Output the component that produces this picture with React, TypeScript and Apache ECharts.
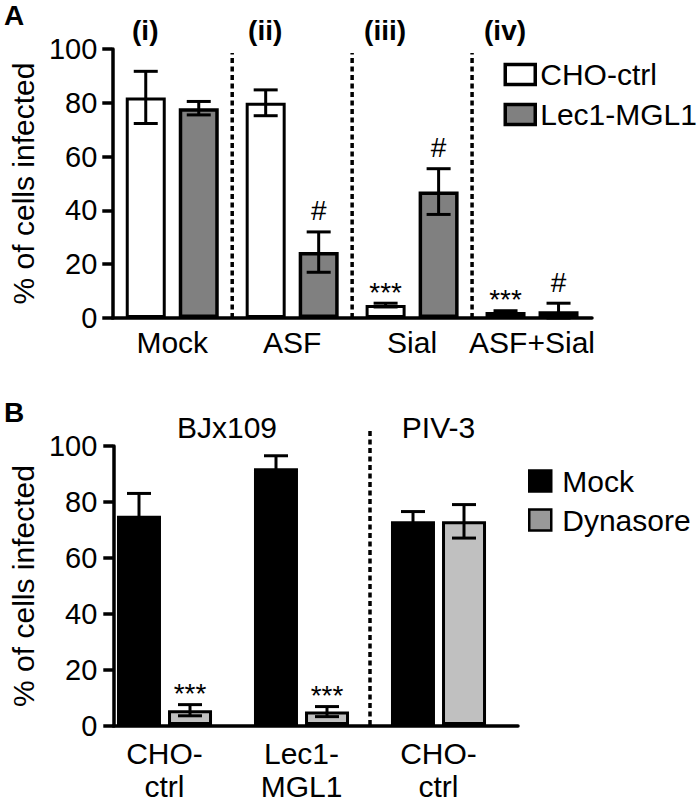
import React, { useEffect, useRef } from 'react';
import * as echarts from 'echarts';

const FONT = '"Liberation Sans", Arial, Helvetica, sans-serif';

// ---------- Panel A ----------
const categoriesA = ['Mock', 'ASF', 'Sial', 'ASF+Sial'];
const sectionLabelsA = ['(i)', '(ii)', '(iii)', '(iv)'];
const choCtrl = [82, 80, 4.8, 2.2];
const choCtrlErr = [9.7, 4.8, 0.7, 0.5];
const lec1Mgl1 = [78, 24.5, 47, 2.5];
const lec1Mgl1Err = [2.5, 7.5, 8.5, 3];
const choCtrlSig = ['', '', '***', '***'];
const lec1Mgl1Sig = ['', '#', '#', '#'];
const dividersA = [0, 1, 2];

// ---------- Panel B ----------
const categoriesB = ['CHO-\nctrl', 'Lec1-\nMGL1', 'CHO-\nctrl'];
const virusGroupsB = ['BJx109', 'PIV-3'];
const virusGroupSpanB = [[0, 1], [2, 2]];
const mockB = [75, 92, 73];
const mockErrB = [8, 4.5, 3.5];
const dynasoreB = [5.3, 4.8, 73];
const dynasoreErrB = [2, 1.8, 6];
const mockSigB = ['', '', ''];
const dynasoreSigB = ['***', '***', ''];
const dividersB = [1];

const Y_MIN = 0;
const Y_MAX = 100;
const Y_INTERVAL = 20;
const Y_NAME = '% of cells infected';

function errorSeries(
  xAxisIndex: number,
  yAxisIndex: number,
  values: number[],
  errs: number[],
  sigs: string[],
  side: number,
  halfPitch: number
) {
  return {
    type: 'custom',
    xAxisIndex,
    yAxisIndex,
    clip: false,
    silent: true,
    z: 5,
    data: values.map((v, i) => [i, v, errs[i]]),
    renderItem: (params: any, api: any) => {
      const i = api.value(0);
      const v = api.value(1);
      const e = api.value(2);
      const base = api.coord([i, v]);
      const x = base[0] + side * halfPitch;
      const yTop = api.coord([i, v + e])[1];
      const yBot = api.coord([i, Math.max(v - e, 0)])[1];
      const cap = 12;
      const st = { stroke: '#000', lineWidth: 3 };
      const children: any[] = [
        { type: 'line', shape: { x1: x, y1: yTop, x2: x, y2: yBot }, style: st },
        { type: 'line', shape: { x1: x - cap, y1: yTop, x2: x + cap, y2: yTop }, style: st },
        { type: 'line', shape: { x1: x - cap, y1: yBot, x2: x + cap, y2: yBot }, style: st },
      ];
      const s = sigs[params.dataIndex];
      if (s) {
        children.push({
          type: 'text',
          x,
          y: yTop - (s === '#' ? 21 : 11),
          style: {
            text: s,
            fontSize: 28,
            fontFamily: FONT,
            fill: '#000',
            align: 'center',
            verticalAlign: 'middle',
          },
        });
      }
      return { type: 'group', children };
    },
  };
}

function dividerSeries(xAxisIndex: number, yAxisIndex: number, boundaries: number[], topValue: number) {
  return {
    type: 'custom',
    xAxisIndex,
    yAxisIndex,
    clip: false,
    silent: true,
    z: 4,
    data: boundaries.map((b) => [b]),
    renderItem: (params: any, api: any) => {
      const i = api.value(0);
      const x = (api.coord([i, 0])[0] + api.coord([i + 1, 0])[0]) / 2;
      const y0 = api.coord([i, 0])[1];
      const y1 = api.coord([i, topValue])[1];
      return {
        type: 'line',
        shape: { x1: x, y1: y0, x2: x, y2: y1 },
        style: { stroke: '#000', lineWidth: 3.5, lineDash: [5, 3.5] },
      };
    },
  };
}

const axisLineStyle = { color: '#000', width: 3.5 };

export default function App() {
  const ref = useRef<HTMLDivElement>(null);

  useEffect(() => {
    if (!ref.current) return;
    const chart = echarts.init(ref.current, undefined, { renderer: 'svg' });

    const yAxisCommon = (gridIndex: number, gap: number, margin: number) => ({
      type: 'value',
      gridIndex,
      min: Y_MIN,
      max: Y_MAX,
      interval: Y_INTERVAL,
      axisLine: { show: true, lineStyle: axisLineStyle },
      axisTick: { show: true, length: 10, lineStyle: { color: '#000', width: 3.5 } },
      axisLabel: { fontSize: 29, color: '#000', fontFamily: FONT, margin },
      splitLine: { show: false },
      name: Y_NAME,
      nameLocation: 'middle',
      nameGap: gap,
      nameTextStyle: { fontSize: 30, color: '#000', fontFamily: FONT },
    });

    chart.setOption({
      animation: false,
      backgroundColor: '#fff',
      textStyle: { fontFamily: FONT },
      grid: [
        { left: 98, top: 49, width: 494, height: 269 },
        { left: 96, top: 446, width: 411, height: 280 },
        { left: 106, top: 446, width: 412, height: 280 },
      ],
      xAxis: [
        {
          type: 'category',
          gridIndex: 0,
          data: categoriesA,
          axisLine: { show: true, lineStyle: axisLineStyle },
          axisTick: { show: false },
          axisLabel: {
            interval: 0,
            hideOverlap: false,
            fontSize: 30,
            color: '#000',
            fontFamily: FONT,
            margin: 9,
          },
        },
        {
          type: 'category',
          gridIndex: 1,
          data: categoriesB,
          axisLine: { show: false },
          axisTick: { show: false },
          axisLabel: {
            interval: 0,
            hideOverlap: false,
            fontSize: 30,
            lineHeight: 33,
            color: '#000',
            fontFamily: FONT,
            margin: 12,
          },
        },
        {
          type: 'value',
          gridIndex: 2,
          min: 0,
          max: 1,
          axisLine: { show: true, lineStyle: axisLineStyle },
          axisTick: { show: false },
          axisLabel: { show: false },
          splitLine: { show: false },
        },
      ],
      yAxis: [
        yAxisCommon(0, 58, 15),
        { type: 'value', gridIndex: 1, min: Y_MIN, max: Y_MAX, show: false },
        yAxisCommon(2, 67, 16),
      ],
      legend: [
        {
          orient: 'vertical',
          left: 503.5,
          top: 59.5,
          padding: 0,
          itemWidth: 30,
          itemHeight: 20,
          itemGap: 10,
          icon: 'rect',
          itemStyle: { borderColor: '#000', borderWidth: 3.5 },
          textStyle: { fontSize: 30, lineHeight: 28, color: '#000', fontFamily: FONT },
          data: [{ name: 'CHO-ctrl' }, { name: 'Lec1-MGL1' }],
          selectedMode: false,
        },
        {
          orient: 'vertical',
          left: 528,
          top: 466,
          padding: 0,
          itemWidth: 22,
          itemHeight: 21,
          itemGap: 9,
          icon: 'rect',
          itemStyle: { borderColor: '#000', borderWidth: 2.5 },
          textStyle: { fontSize: 30, lineHeight: 28, color: '#000', fontFamily: FONT, padding: [0, 0, 0, 6] },
          data: [{ name: 'Mock' }, { name: 'Dynasore', itemStyle: { color: '#999999' } }],
          selectedMode: false,
        },
      ],
      graphic: [
        {
          type: 'text',
          left: 4,
          top: 1,
          style: { text: 'A', fontSize: 28, fontWeight: 'bold', fontFamily: FONT, fill: '#000' },
        },
        {
          type: 'text',
          left: 4,
          top: 398,
          style: { text: 'B', fontSize: 28, fontWeight: 'bold', fontFamily: FONT, fill: '#000' },
        },
      ],
      series: [
        {
          name: 'CHO-ctrl',
          type: 'bar',
          xAxisIndex: 0,
          yAxisIndex: 0,
          data: choCtrl,
          barWidth: 40,
          barGap: '32.5%',
          itemStyle: { color: '#ffffff', borderColor: '#000', borderWidth: 3 },
        },
        {
          name: 'Lec1-MGL1',
          type: 'bar',
          xAxisIndex: 0,
          yAxisIndex: 0,
          data: lec1Mgl1,
          barWidth: 40,
          barGap: '32.5%',
          itemStyle: { color: '#808080', borderColor: '#000', borderWidth: 3.5 },
        },
        errorSeries(0, 0, choCtrl, choCtrlErr, choCtrlSig, -1, 26.5),
        errorSeries(0, 0, lec1Mgl1, lec1Mgl1Err, lec1Mgl1Sig, 1, 26.5),
        dividerSeries(0, 0, dividersA, 98.5),
        {
          type: 'custom',
          xAxisIndex: 0,
          yAxisIndex: 0,
          clip: false,
          silent: true,
          data: sectionLabelsA.map((_, i) => [i]),
          renderItem: (params: any, api: any) => {
            const p = api.coord([api.value(0), 107]);
            return {
              type: 'text',
              x: p[0] - 27,
              y: p[1],
              style: {
                text: sectionLabelsA[params.dataIndex],
                fontSize: 28,
                fontWeight: 'bold',
                fontFamily: FONT,
                fill: '#000',
                align: 'center',
                verticalAlign: 'middle',
              },
            };
          },
        },
        {
          name: 'Mock',
          type: 'bar',
          xAxisIndex: 1,
          yAxisIndex: 1,
          data: mockB,
          barWidth: 44,
          barGap: '16%',
          itemStyle: { color: '#000000', borderColor: '#000', borderWidth: 3 },
        },
        {
          name: 'Dynasore',
          type: 'bar',
          xAxisIndex: 1,
          yAxisIndex: 1,
          data: dynasoreB,
          barWidth: 44,
          barGap: '16%',
          itemStyle: { color: '#c0c0c0', borderColor: '#000', borderWidth: 3 },
        },
        errorSeries(1, 1, mockB, mockErrB, mockSigB, -1, 25.5),
        errorSeries(1, 1, dynasoreB, dynasoreErrB, dynasoreSigB, 1, 25.5),
        dividerSeries(1, 1, dividersB, 105.7),
        {
          type: 'custom',
          xAxisIndex: 1,
          yAxisIndex: 1,
          clip: false,
          silent: true,
          data: virusGroupSpanB,
          renderItem: (params: any, api: any) => {
            const a = api.coord([api.value(0), 106.8]);
            const b = api.coord([api.value(1), 106.8]);
            return {
              type: 'text',
              x: (a[0] + b[0]) / 2 - (params.dataIndex === 0 ? 6 : 0),
              y: a[1],
              style: {
                text: virusGroupsB[params.dataIndex],
                fontSize: 30,
                fontFamily: FONT,
                fill: '#000',
                align: 'center',
                verticalAlign: 'middle',
              },
            };
          },
        },
      ],
    });

    return () => {
      chart.dispose();
    };
  }, []);

  return (
    <div
      ref={ref}
      style={{ position: 'absolute', left: 0, top: 0, width: 700, height: 803, background: '#fff' }}
    />
  );
}
